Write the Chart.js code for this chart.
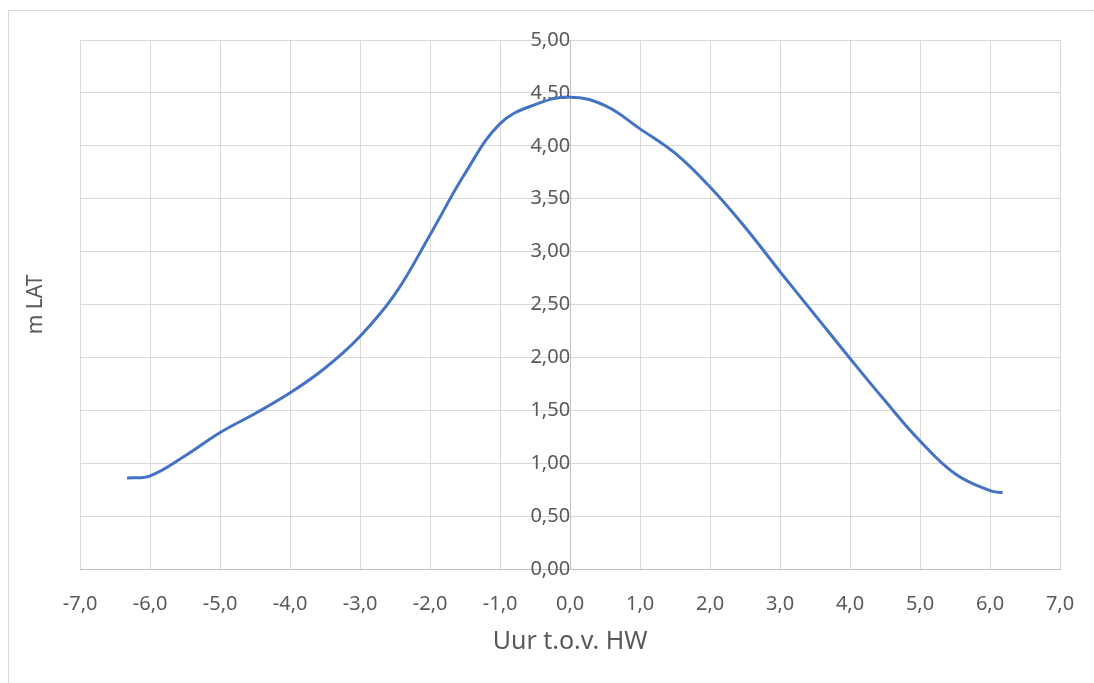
<!DOCTYPE html>
<html>
<head>
<meta charset="utf-8">
<script src="https://cdn.jsdelivr.net/npm/chart.js@4.4.1/dist/chart.umd.min.js"></script>
<style>
  html, body { margin: 0; padding: 0; background: #ffffff; }
  #kader { position: absolute; left: 8px; top: 10px; width: 1200px; height: 800px;
           border-left: 1px solid #d9d9d9; border-top: 1px solid #d9d9d9; }
  #wrap { position: absolute; left: 0; top: 0; width: 1094px; height: 683px; }
</style>
</head>
<body>
<div id="kader"></div>
<div id="wrap"><canvas id="myChart"></canvas></div>
<script>
// Waterstand t.o.v. hoogwater (uren) in m LAT
const uren = [-6.33, -6.0, -5.5, -5.0, -4.5, -4.0, -3.5, -3.0, -2.5, -2.0, -1.5, -1.0, -0.5,
              0.0, 0.5, 1.0, 1.5, 2.0, 2.5, 3.0, 3.5, 4.0, 4.5, 5.0, 5.5, 6.0, 6.18];
const waterstand = [0.86, 0.88, 1.07, 1.29, 1.47, 1.665, 1.90, 2.20, 2.60, 3.16, 3.74, 4.21, 4.39,
                    4.46, 4.38, 4.16, 3.93, 3.61, 3.23, 2.81, 2.40, 1.99, 1.59, 1.21, 0.90, 0.74, 0.72];
const xTicks = [-7, -6, -5, -4, -3, -2, -1, 0, 1, 2, 3, 4, 5, 6, 7];
const yTicks = [0, 0.5, 1, 1.5, 2, 2.5, 3, 3.5, 4, 4.5, 5];

const tekstKleur = '#595959';
const lettertype = "'Noto Sans', sans-serif";

const punten = uren.map((u, i) => ({ x: u, y: waterstand[i] }));

const ctx = document.getElementById('myChart').getContext('2d');
const myChart = new Chart(ctx, {
  type: 'line',
  data: {
    datasets: [{
      data: punten,
      borderColor: '#4472c4',
      borderWidth: 3,
      pointRadius: 0,
      tension: 0.4,
      fill: false
    }]
  },
  options: {
    responsive: true,
    maintainAspectRatio: false,
    animation: false,
    layout: { padding: { left: 23, right: 34, top: 40, bottom: 0 } },
    plugins: { legend: { display: false }, tooltip: { enabled: false } },
    scales: {
      x: {
        type: 'linear',
        position: 'bottom',
        min: -7, max: 7,
        afterBuildTicks: (s) => { s.ticks = xTicks.map(v => ({ value: v })); },
        ticks: {
          color: tekstKleur,
          font: { family: lettertype, size: 20 },
          padding: 8,
          maxRotation: 0,
          callback: (v) => v.toFixed(1).replace('.', ',')
        },
        grid: { color: '#d9d9d9', lineWidth: 1, drawTicks: true, tickLength: 15, tickColor: 'rgba(0,0,0,0)' },
        border: { color: '#bfbfbf', width: 1 },
        title: {
          display: true,
          text: 'Uur t.o.v. HW',
          color: tekstKleur,
          font: { family: lettertype, size: 25 },
          padding: { top: 3, bottom: 26 }
        }
      },
      y: {
        type: 'linear',
        position: { x: 0 },
        min: 0, max: 5,
        afterBuildTicks: (s) => { s.ticks = yTicks.map(v => ({ value: v })); },
        ticks: {
          color: tekstKleur,
          font: { family: lettertype, size: 20 },
          callback: (v) => v.toFixed(2).replace('.', ',')
        },
        grid: { color: '#d9d9d9', lineWidth: 1, drawTicks: true, tickLength: 22, tickColor: 'rgba(0,0,0,0)' },
        border: { color: '#bfbfbf', width: 1 }
      },
      yTitel: {
        type: 'linear',
        position: 'left',
        min: 0, max: 1,
        ticks: { display: false },
        grid: { display: false, drawTicks: false },
        border: { display: false },
        title: {
          display: true,
          text: 'm LAT',
          color: tekstKleur,
          font: { family: lettertype, size: 21 },
          padding: { top: 0, bottom: 32 }
        }
      }
    }
  }
});
</script>
</body>
</html>
